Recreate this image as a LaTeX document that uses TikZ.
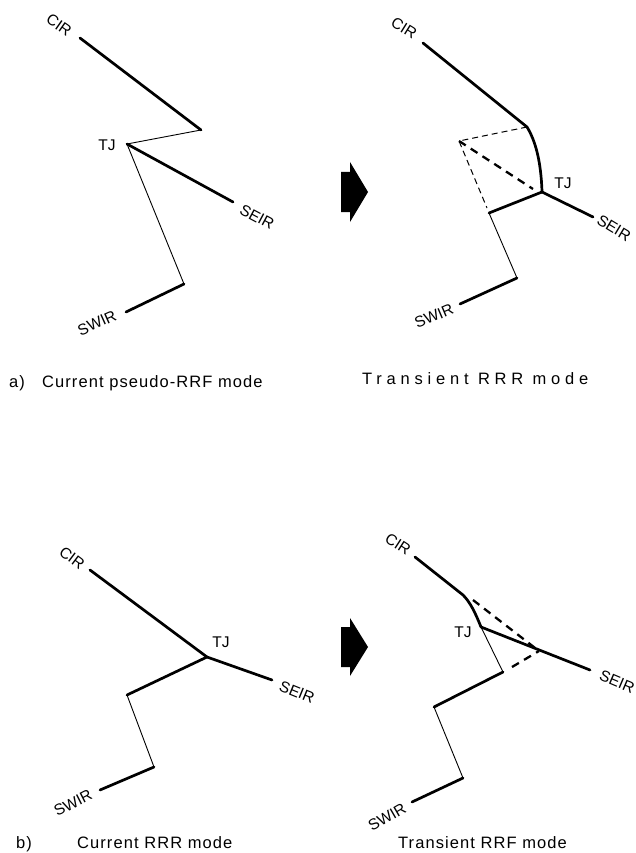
\documentclass[tikz,border=0pt]{standalone}
\usepackage{fontspec}
\setmainfont{Liberation Sans}
\newfontfamily\capfont[LetterSpace=6.5]{Liberation Sans}
\newfontfamily\capwide[LetterSpace=29]{Liberation Sans}
\begin{document}
\begin{tikzpicture}[x=1pt,y=-1pt,
  ridge/.style={line width=2.7pt,line cap=round,line join=round},
  fault/.style={line width=0.9pt,line cap=round,line join=round},
  oldridge/.style={line width=2.3pt,dash pattern=on 8pt off 6pt},
  oldfault/.style={line width=1pt,dash pattern=on 6pt off 4pt},
  lbl/.style={font=\fontsize{15.5}{17}\selectfont,inner sep=0pt},
  capt/.style={font=\fontsize{16.5}{19}\selectfont\capfont,inner sep=0pt,anchor=base west},
  captw/.style={font=\fontsize{16.5}{19}\selectfont\capwide,inner sep=0pt,anchor=base west},
  blockarrow/.style={fill=black}]
\fill[white] (0,0) rectangle (635,853);
\useasboundingbox (0,0) rectangle (635,853);

% ---------- panel a, left ----------
\coordinate (aCIR) at (80,38);
\coordinate (aK)   at (201,130);
\coordinate (aTJ)  at (127,144);
\coordinate (aSE)  at (233,202);
\coordinate (aS1)  at (184,284);
\coordinate (aSW)  at (126,312);
\draw[ridge] (aCIR) -- (aK);
\draw[fault] (aK) -- (aTJ);
\draw[ridge] (aTJ) -- (aSE);
\draw[fault] (aTJ) -- (aS1);
\draw[ridge] (aS1) -- (aSW);
\node[lbl,rotate=-35] (aCIRl) at (59,25) {CIR};
\node[lbl] (aTJl) at (107,145) {TJ};
\node[lbl,rotate=-28] (aSEl) at (257,217) {SEIR};
\node[lbl,rotate=24] (aSWl) at (97,323) {SWIR};

% ---------- panel a, right ----------
\coordinate (bCIR) at (423,43);
\coordinate (bK)   at (527,127);
\coordinate (bTJ)  at (542,192);
\coordinate (bSE)  at (593,217);
\coordinate (bS0)  at (489,213);
\coordinate (bS1)  at (517,278);
\coordinate (bSW)  at (460,304);
\coordinate (bP)   at (459,141);
\coordinate (bPe)  at (533,189);
\coordinate (bS0e) at (487,208);
\draw[ridge] (bCIR) -- (bK) .. controls (535,140) and (541,160) .. (bTJ);
\draw[ridge] (bTJ) -- (bSE);
\draw[ridge] (bTJ) -- (bS0);
\draw[fault] (bS0) -- (bS1);
\draw[ridge] (bS1) -- (bSW);
\draw[oldfault] (bK) -- (bP) -- (bS0e);
\draw[oldridge] (bP) -- (bPe);
\node[lbl,rotate=-32] (bCIRl) at (404,28) {CIR};
\node[lbl] (bTJl) at (563,183) {TJ};
\node[lbl,rotate=-31] (bSEl) at (614,228) {SEIR};
\node[lbl,rotate=23] (bSWl) at (434,316) {SWIR};

% arrow a
\fill[blockarrow] (341,172) -- (350,172) -- (350,162) -- (368,192) -- (350,222) -- (350,212) -- (341,212) -- cycle;

% captions a
\node[capt] (acapl) at (9,387) {a)};
\node[capt] (acap) at (42,387) {Current pseudo-RRF mode};
\node[captw] (acapr) at (362,384) {Transient RRR mode};

% ---------- panel b, left ----------
\coordinate (cCIR) at (90,570);
\coordinate (cTJ)  at (207,657);
\coordinate (cSE)  at (272,680);
\coordinate (cS0)  at (127,695);
\coordinate (cS1)  at (154,767);
\coordinate (cSW)  at (100,790);
\draw[ridge] (cCIR) -- (cTJ);
\draw[ridge] (cTJ) -- (cSE);
\draw[ridge] (cTJ) -- (cS0);
\draw[fault] (cS0) -- (cS1);
\draw[ridge] (cS1) -- (cSW);
\node[lbl,rotate=-37] (cCIRl) at (72,558) {CIR};
\node[lbl] (cTJl) at (221,642) {TJ};
\node[lbl,rotate=-22] (cSEl) at (297,692) {SEIR};
\node[lbl,rotate=27] (cSWl) at (73,803) {SWIR};

% ---------- panel b, right ----------
\coordinate (dCIR) at (415,557);
\coordinate (dK)   at (463,595);
\coordinate (dTJ)  at (481,627);
\coordinate (dSE)  at (590,670);
\coordinate (dS0)  at (503,672);
\coordinate (dS1)  at (434,707);
\coordinate (dS2)  at (463,778);
\coordinate (dSW)  at (412,802);
\coordinate (dA)   at (473,600);
\coordinate (dQ)   at (539,651);
\coordinate (dB)   at (512,667);
\draw[ridge] (dCIR) -- (dK) .. controls (470,602) and (475,612) .. (dTJ);
\draw[ridge] (dTJ) -- (dSE);
\draw[fault] (dTJ) -- (dS0);
\draw[ridge] (dS0) -- (dS1);
\draw[fault] (dS1) -- (dS2);
\draw[ridge] (dS2) -- (dSW);
\draw[oldridge] (dA) -- (dQ);
\draw[oldridge] (dB) -- (dQ);
\node[lbl,rotate=-33] (dCIRl) at (398,544) {CIR};
\node[lbl] (dTJl) at (463,632) {TJ};
\node[lbl,rotate=-23] (dSEl) at (617,682) {SEIR};
\node[lbl,rotate=30] (dSWl) at (387,817) {SWIR};

% arrow b
\fill[blockarrow] (341,627) -- (350,627) -- (350,618) -- (368,647) -- (350,676) -- (350,667) -- (341,667) -- cycle;

% captions b
\node[capt] (bcapl) at (16,848) {b)};
\node[capt] (bcap) at (77,848) {Current RRR mode};
\node[capt] (bcapr) at (398,848) {Transient RRF mode};
\end{tikzpicture}
\end{document}
